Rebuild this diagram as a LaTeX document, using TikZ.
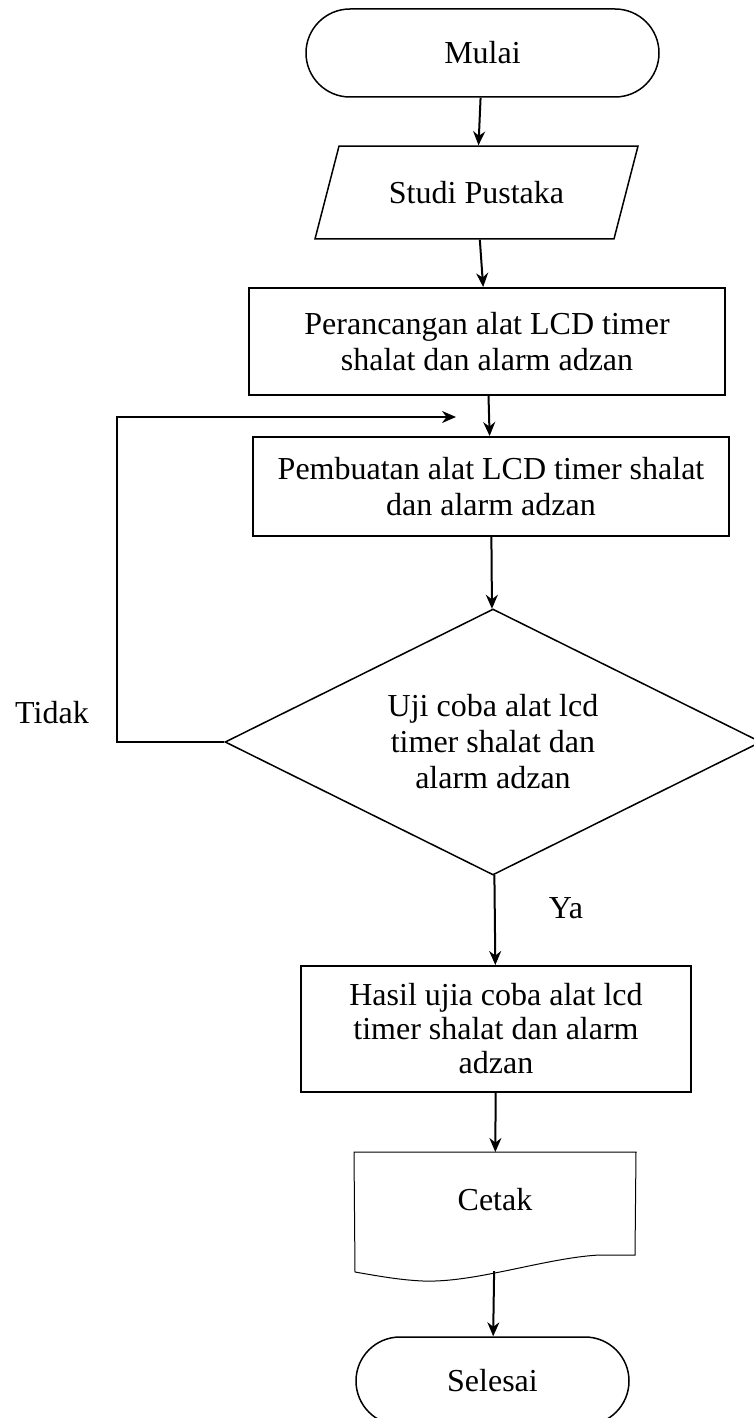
\documentclass[tikz,border=0pt]{standalone}
\usepackage{fontspec}
\setmainfont{Liberation Serif}
\usetikzlibrary{shapes,shapes.geometric,shapes.misc,arrows.meta,calc,positioning}
\tikzset{
    -{Stealth[length=7pt,width=6pt]},
    every node/.style={font=\fontsize{16pt}{18pt}\selectfont},
    terminal/.style ={rounded rectangle, draw, line width=0.75pt, inner sep=0pt, minimum height=44pt},
    io/.style ={trapezium, draw, line width=0.75pt, trapezium left angle=75.5, trapezium right angle=104.5, trapezium stretches body=true, inner xsep=0pt, inner ysep=17.6pt},
    process/.style ={rectangle, draw, line width=1pt, align=center, inner sep=0pt},
    decision/.style={diamond, draw, line width=0.75pt, align=center, inner sep=0pt, shape aspect=2},
    doc/.style ={line width=0.5pt},
    el/.style = {inner sep=0pt}
}

\begin{document}
\begin{tikzpicture}[x=0.5pt,y=-0.5pt,line width=1pt]
    \useasboundingbox (0,0) rectangle (754,1418);
    \node[terminal, minimum width=176.5pt] (mulai) at (482.5,53) {Mulai};
    \node[io, minimum width=161.5pt] (studi) at (476.5,192.5) {Studi Pustaka};
    \node[process, minimum width=238pt, minimum height=53.5pt] (rancang) at (487,341.5) {Perancangan alat LCD timer\\shalat dan alarm adzan};
    \node[process, minimum width=238pt, minimum height=49.5pt] (buat) at (491,486.5) {Pembuatan alat LCD timer shalat\\dan alarm adzan};
    \node[decision, minimum width=268pt, minimum height=133pt] (uji) at (493,742) {Uji coba alat lcd\\timer shalat dan\\alarm adzan};
    \node[process, minimum width=195pt, minimum height=63pt, font=\fontsize{16pt}{17pt}\selectfont] (hasil) at (496,1029) {Hasil ujia coba alat lcd\\timer shalat dan alarm\\adzan};
    \node[inner sep=0pt, minimum width=140pt, text height=28.75pt, text depth=29.75pt] (cetak) at (495,1211.5) {Cetak};
    \node[terminal, minimum width=136.5pt] (selesai) at (492.5,1381) {Selesai};
    \node[el] (tidak) at (52,713) {Tidak};
    \node[el] (ya) at (566,908) {Ya};
    \coordinate (kiri) at (117,417);
    \coordinate (balik) at (456,417);

    % kertas cetak
    \draw[-, doc] (cetak.north west) -- (cetak.north east) -- (635,1255) -- (599,1255)
        .. controls (545,1258) and (475,1283) .. (423,1281)
        .. controls (400,1280) and (378,1276) .. (355,1272) -- cycle;

    \path (mulai) edge (studi);
    \path (studi) edge (rancang);
    \path (rancang) edge (buat);
    \path (buat) edge (uji);
    \path (uji) edge (hasil);
    \path (hasil) edge (cetak);
    \path (cetak) edge (selesai);
    \draw (uji.west) -| (kiri) -- (balik);

\end{tikzpicture}
\end{document}
